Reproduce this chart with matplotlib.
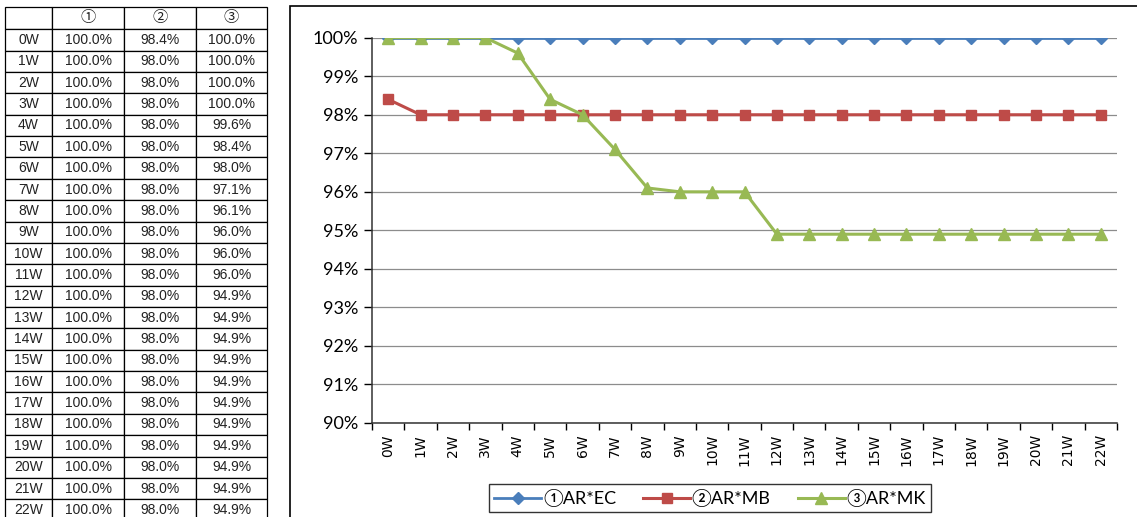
import matplotlib
matplotlib.use("Agg")
import matplotlib.pyplot as plt
from matplotlib.patches import Rectangle
from matplotlib.ticker import FixedLocator, FuncFormatter

# données
semaines = ['0W', '1W', '2W', '3W', '4W', '5W', '6W', '7W', '8W', '9W', '10W',
            '11W', '12W', '13W', '14W', '15W', '16W', '17W', '18W', '19W',
            '20W', '21W', '22W']
serie_ec = [100.0, 100.0, 100.0, 100.0, 100.0, 100.0, 100.0, 100.0, 100.0,
            100.0, 100.0, 100.0, 100.0, 100.0, 100.0, 100.0, 100.0, 100.0,
            100.0, 100.0, 100.0, 100.0, 100.0]
serie_mb = [98.4, 98.0, 98.0, 98.0, 98.0, 98.0, 98.0, 98.0, 98.0, 98.0, 98.0,
            98.0, 98.0, 98.0, 98.0, 98.0, 98.0, 98.0, 98.0, 98.0, 98.0, 98.0,
            98.0]
serie_mk = [100.0, 100.0, 100.0, 100.0, 99.6, 98.4, 98.0, 97.1, 96.1, 96.0,
            96.0, 96.0, 94.9, 94.9, 94.9, 94.9, 94.9, 94.9, 94.9, 94.9, 94.9,
            94.9, 94.9]
entetes = ['', '①', '②', '③']
noms_series = ['①AR*EC', '②AR*MB', '③AR*MK']
graduations_y = [90, 91, 92, 93, 94, 95, 96, 97, 98, 99, 100]

W, H = 1137, 517
fig = plt.figure(figsize=(W / 100, H / 100), dpi=100)
fig.patch.set_facecolor('white')

police_tab = ['Liberation Sans', 'Noto Sans CJK JP']
police_graph = ['Lato', 'Noto Sans CJK JP']

# tableau à gauche (hauteurs en pixels)
haut_entete = 22.6
haut_ligne = 21.36
haut_total = haut_entete + len(semaines) * haut_ligne
ax_t = fig.add_axes([5 / W, 1 - (6.7 + haut_total) / H,
                     262 / W, haut_total / H])
ax_t.axis('off')
cellules = [[s, '%.1f%%' % a, '%.1f%%' % b, '%.1f%%' % c]
            for s, a, b, c in zip(semaines, serie_ec, serie_mb, serie_mk)]
tab = ax_t.table(cellText=[entetes] + cellules, bbox=[0, 0, 1, 1],
                 colWidths=[47, 72, 72, 71], cellLoc='center')
tab.auto_set_font_size(False)
for (r, c), cell in tab.get_celld().items():
    cell.set_height(haut_entete if r == 0 else haut_ligne)
    cell.set_linewidth(0.9)
    cell.set_edgecolor('black')
    cell.get_text().set_fontsize(11 if r == 0 else 10)
    cell.get_text().set_family(police_tab)
    cell.get_text().set_color('#222222')
    cell.PAD = 0.02

# cadre du graphique
fig.patches.append(Rectangle((290 / W, -0.1), 1.0, 1 - 6 / H + 0.1,
                             transform=fig.transFigure, fill=False,
                             edgecolor='black', linewidth=1.2,
                             clip_on=False))

ax = fig.add_axes([372 / W, 1 - 423 / H, (1117 - 372) / W, (423 - 37.7) / H])
x = range(len(semaines))
ax.plot(x, serie_ec, color='#4A7EBB', marker='D', markersize=6,
        linewidth=2, label=noms_series[0], zorder=3)
ax.plot(x, serie_mb, color='#BE4B48', marker='s', markersize=7,
        linewidth=2.2, label=noms_series[1], zorder=3)
ax.plot(x, serie_mk, color='#98B954', marker='^', markersize=8,
        linewidth=2.2, label=noms_series[2], zorder=4)

ax.set_xlim(-0.5, len(semaines) - 0.5)
ax.set_ylim(90, 100)
ax.set_yticks(graduations_y)
ax.yaxis.set_major_formatter(FuncFormatter(lambda v, p: '%d%%' % v))
ax.xaxis.set_major_locator(FixedLocator([i - 0.5 for i in range(len(semaines) + 1)]))
ax.xaxis.set_major_formatter(FuncFormatter(lambda v, p: ''))
ax.xaxis.set_minor_locator(FixedLocator(list(x)))
ax.set_xticklabels(semaines, minor=True, rotation=90, fontsize=10,
                   family='DejaVu Sans')
ax.tick_params(axis='x', which='minor', length=0, pad=8)
ax.tick_params(axis='x', which='major', length=5, width=1, direction='out')
ax.tick_params(axis='y', length=6, width=1, direction='out', pad=4)
for lab in ax.get_yticklabels():
    lab.set_fontsize(13)
    lab.set_family(police_graph)
ax.grid(axis='y', color='#8c8c8c', linewidth=0.9)
ax.set_axisbelow(True)
for cote in ['top', 'right']:
    ax.spines[cote].set_visible(False)
for cote in ['left', 'bottom']:
    ax.spines[cote].set_color('#333333')
    ax.spines[cote].set_linewidth(1.1)

leg = ax.legend(loc='center', bbox_to_anchor=(710 / W, 1 - 498 / H),
                bbox_transform=fig.transFigure, ncol=3, frameon=True,
                fancybox=False, edgecolor='black', handlelength=2.6,
                columnspacing=1.5, handletextpad=0.1, borderpad=0.3,
                prop={'family': police_graph, 'size': 13})
leg.get_frame().set_linewidth(1.0)

fig.savefig('out.png', dpi=100)
